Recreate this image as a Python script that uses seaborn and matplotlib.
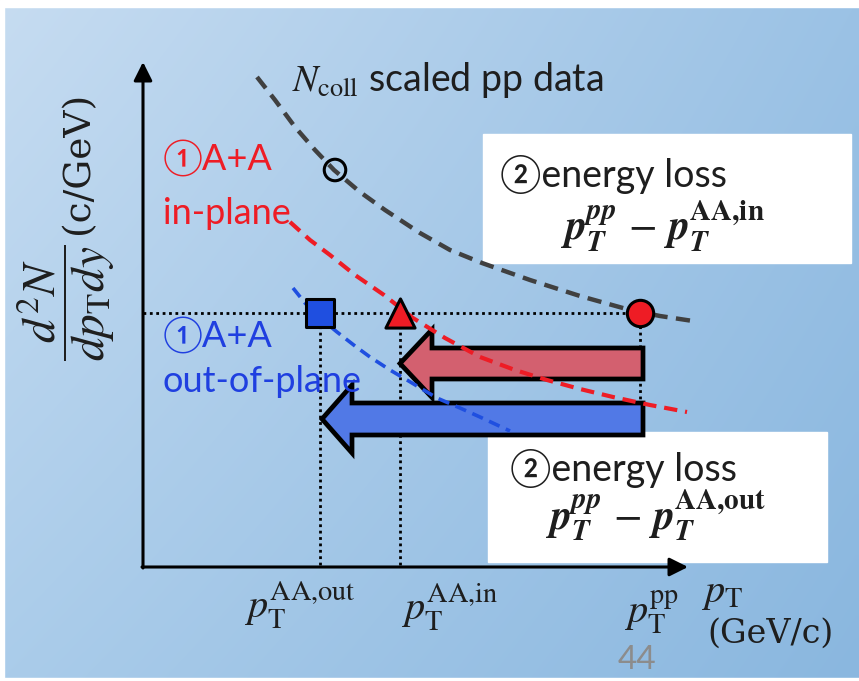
import numpy as np
import matplotlib
matplotlib.use("Agg")
import matplotlib.pyplot as plt
import seaborn as sns
import pandas as pd
from matplotlib.patches import Rectangle

sns.set_theme(style="white")
plt.rcParams["mathtext.fontset"] = "stix"
SANS = ["Lato", "DejaVu Sans", "Noto Sans CJK JP"]
SERIF = ["DejaVu Serif"]

# ---- data (schematic, in picture coordinates) ----
pp_x = [257, 275, 295, 315, 334, 360, 385, 420, 450, 482, 530, 580, 630, 660, 693]
pp_y = [77, 100, 127, 150, 170, 192, 210, 233, 250, 263, 280, 296, 310, 316, 321]
in_x = [290, 310, 330, 355, 384, 413, 445, 480, 515, 547, 580, 613, 650, 687]
in_y = [222, 240, 255, 275, 295, 318, 338, 357, 370, 380, 389, 397, 405, 412]
out_x = [293, 305, 320, 337, 355, 370, 390, 407, 437, 460, 480, 510]
out_y = [288, 303, 318, 332, 346, 357, 370, 380, 398, 408, 417, 431]

pt_out, pt_in, pt_pp = 320, 400, 640
level = 313
open_pt = (335, 170)
origin = (143, 567)
x_axis_end, y_axis_end = 688, 62

fig = plt.figure(figsize=(8.59, 6.81), dpi=100)
ax = fig.add_axes([0, 0, 1, 1])

# background gradient
ny, nx = 100, 120
u = np.linspace(0, 1, nx)[None, :]
v = np.linspace(0, 1, ny)[:, None]
TL = np.array([198, 220, 241]) / 255
TR = np.array([155, 194, 229]) / 255
BL = np.array([170, 204, 234]) / 255
BR = np.array([138, 183, 223]) / 255
img = ((1 - u)[..., None] * (1 - v)[..., None] * TL + u[..., None] * (1 - v)[..., None] * TR
       + (1 - u)[..., None] * v[..., None] * BL + u[..., None] * v[..., None] * BR)
ax.imshow(img, extent=[0, 859, 681, 0], aspect="auto", interpolation="bilinear", zorder=0)
ax.add_patch(Rectangle((0, 0), 859, 7, color="white", zorder=0.5))
ax.add_patch(Rectangle((0, 0), 4, 681, color="white", zorder=0.5))
ax.add_patch(Rectangle((0, 678), 859, 3, color="white", zorder=0.5))

# white boxes
ax.add_patch(Rectangle((483, 134), 368, 129, color="white", zorder=1))
ax.add_patch(Rectangle((488, 432), 339, 130, color="white", zorder=1))

# axes arrows
ax.annotate("", xy=(x_axis_end, origin[1]), xytext=(origin[0] - 1, origin[1]),
            arrowprops=dict(arrowstyle="-|>", lw=2.2, color="black", mutation_scale=28,
                            shrinkA=0, shrinkB=0), zorder=3)
ax.annotate("", xy=(origin[0], y_axis_end), xytext=(origin[0], origin[1] + 1),
            arrowprops=dict(arrowstyle="-|>", lw=2.2, color="black", mutation_scale=28,
                            shrinkA=0, shrinkB=0), zorder=3)

# dotted guide lines
dot = dict(color="black", lw=2.0, linestyle=(0, (1, 1.3)), zorder=4)
ax.plot([origin[0], pt_pp], [level, level], **dot)
ax.plot([pt_out, pt_out], [level, origin[1]], **dot)
ax.plot([pt_in, pt_in], [level, origin[1]], **dot)
ax.plot([pt_pp, pt_pp], [level, 435], **dot)

# energy-loss arrows
ax.arrow(643, 363.5, pt_in - 643, 0, width=31, head_width=68, head_length=32,
         length_includes_head=True, fc="#d3606f", ec="black", lw=3.4, zorder=5,
         joinstyle="miter")
ax.arrow(643, 419, pt_out + 2 - 643, 0, width=32, head_width=68, head_length=30,
         length_includes_head=True, fc="#5179e6", ec="black", lw=3.4, zorder=5,
         joinstyle="miter")

# dashed curves
curves = pd.concat([
    pd.DataFrame({"x": pp_x, "y": pp_y, "s": "pp"}),
    pd.DataFrame({"x": in_x, "y": in_y, "s": "in"}),
    pd.DataFrame({"x": out_x, "y": out_y, "s": "out"}),
])
pal = {"pp": "#404040", "in": "#ee1c25", "out": "#1f4fe0"}
for name, lw in [("pp", 3.2), ("in", 3.0), ("out", 2.6)]:
    d = curves[curves.s == name]
    sns.lineplot(data=d, x="x", y="y", ax=ax, sort=False, estimator=None,
                 color=pal[name], lw=lw, zorder=6)
    ax.lines[-1].set_dashes((3.2, 1.9))

# markers
sns.scatterplot(x=[pt_pp], y=[level], ax=ax, s=360, color="#ee1c25", edgecolor="black",
                linewidth=2.2, zorder=7)
sns.scatterplot(x=[pt_in], y=[level], ax=ax, s=440, marker="^", color="#ee1c25",
                edgecolor="black", linewidth=2.2, zorder=7)
sns.scatterplot(x=[pt_out], y=[level], ax=ax, s=420, marker="s", color="#1f4fe0",
                edgecolor="black", linewidth=2.2, zorder=7)
sns.scatterplot(x=[open_pt[0]], y=[open_pt[1]], ax=ax, s=240, facecolor="none",
                edgecolor="black", linewidth=2.2, zorder=7)
ax.plot([pt_pp, pt_pp], [level, level + 14], **dot)

ax.set_xlim(0, 859)
ax.set_ylim(681, 0)
ax.axis("off")

# texts
dark = "#1e1e1e"
ax.text(292, 80, r"$N_{\mathrm{coll}}$ scaled pp data", fontsize=27, color=dark,
        family=SANS, ha="left", va="center", zorder=8)
ax.text(163, 158, "\u2460A+A", fontsize=26, color="#ee1c25", family=SANS, va="center", zorder=8)
ax.text(163, 213, "in-plane", fontsize=26, color="#ee1c25", family=SANS, va="center", zorder=8)
ax.text(163, 335, "\u2460A+A", fontsize=26, color="#1f3fe0", family=SANS, va="center", zorder=8)
ax.text(163, 382, "out-of-plane", fontsize=26, color="#1f3fe0", family=SANS, va="center", zorder=8)

ax.text(500, 174, "\u2461energy loss", fontsize=27, color=dark, family=SANS, va="center", zorder=8)
ax.text(662, 226, r"$\mathbfit{p}_{\mathbfit{T}}^{\mathbfit{pp}}\,-\,\mathbfit{p}_{\mathbfit{T}}^{\mathbf{AA{,}in}}$",
        fontsize=30, color=dark, ha="center", va="center", zorder=8)
ax.text(510, 468, "\u2461energy loss", fontsize=27, color=dark, family=SANS, va="center", zorder=8)
ax.text(656, 515, r"$\mathbfit{p}_{\mathbfit{T}}^{\mathbfit{pp}}\,-\,\mathbfit{p}_{\mathbfit{T}}^{\mathbf{AA{,}out}}$",
        fontsize=30, color=dark, ha="center", va="center", zorder=8)

# y label
ax.text(66, 303, r"$\dfrac{d^2N}{dp_{\mathrm{T}}dy}$", fontsize=34, rotation=90, color=dark,
        ha="center", va="center", zorder=8)
ax.text(78, 163, "(c/GeV)", fontsize=27, rotation=90, color=dark, family=SERIF,
        ha="center", va="center", zorder=8)

# x labels
ax.text(300, 605, r"$p_{\mathrm{T}}^{\mathrm{AA{,}out}}$", fontsize=29, color=dark,
        ha="center", va="center", zorder=8)
ax.text(450, 607, r"$p_{\mathrm{T}}^{\mathrm{AA{,}in}}$", fontsize=29, color=dark,
        ha="center", va="center", zorder=8)
ax.text(652, 612, r"$p_{\mathrm{T}}^{\mathrm{pp}}$", fontsize=29, color=dark,
        ha="center", va="center", zorder=8)
ax.text(722, 592, r"$p_{\mathrm{T}}$", fontsize=29, color=dark, ha="center", va="center", zorder=8)
ax.text(771, 634, "(GeV/c)", fontsize=24, color=dark, family=SERIF, ha="center", va="center", zorder=8)
ax.text(637, 660, "44", fontsize=24, color="#8c8c8c", family=SANS, ha="center", va="center", zorder=8)

fig.savefig("out.png", dpi=100)
